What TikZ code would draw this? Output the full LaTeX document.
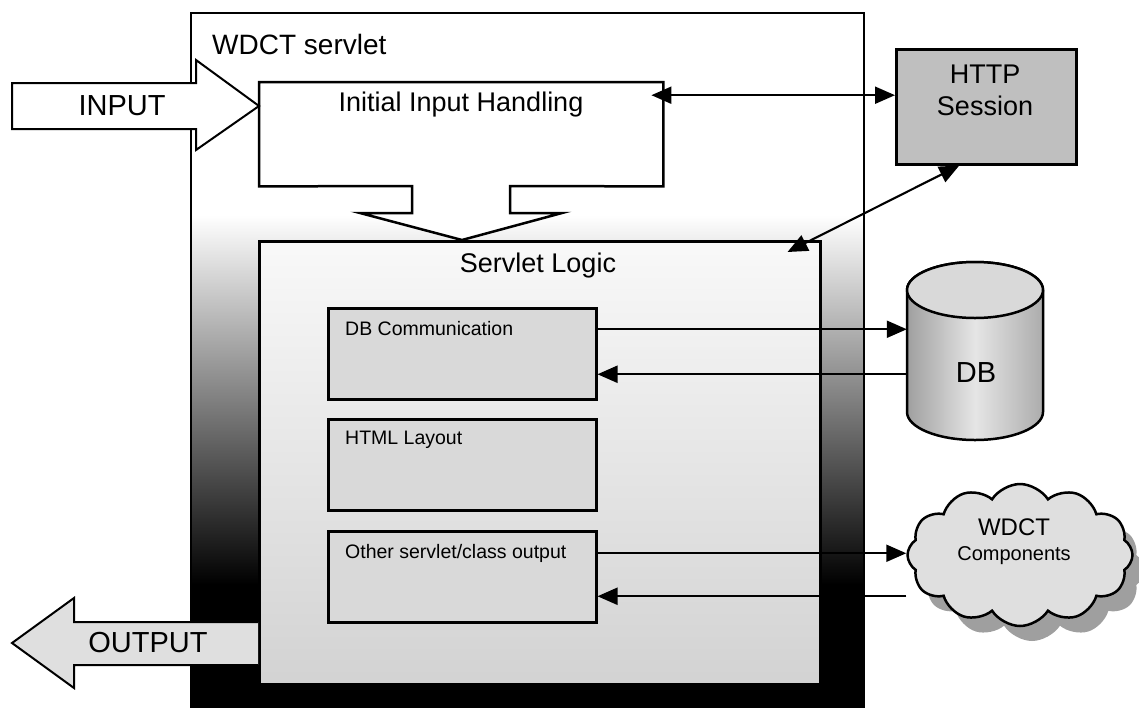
\documentclass[tikz,border=0pt]{standalone}
\usepackage{fontspec}
\setmainfont{Liberation Sans}
\usetikzlibrary{shapes.symbols, arrows.meta, calc}
\begin{document}
\begin{tikzpicture}[x=1pt, y=-1pt,
  box/.style={draw, line width=2.5pt, rectangle, inner sep=0pt, anchor=north west},
  inbox/.style={box, fill=gray!30, minimum width=268pt, minimum height=91pt},
  arr/.style={line width=2.1pt, -{Triangle[length=20pt,width=17pt]}},
  barr/.style={line width=2.1pt, {Triangle[length=20pt,width=17pt]}-{Triangle[length=20pt,width=17pt]}},
  big/.style={font=\fontsize{27}{32}\selectfont, inner sep=0pt},
  huge/.style={font=\fontsize{29}{32}\selectfont, inner sep=0pt},
  small/.style={font=\fontsize{19.5}{22}\selectfont, anchor=west, inner sep=0pt},
  bigarrow/.style={line width=2pt, line join=miter},
  cloudshape/.style={cloud, cloud puffs=12, cloud puff arc=115, aspect=1.6,
    minimum width=225pt, minimum height=142pt, inner sep=0pt},
]
\useasboundingbox (0,0) rectangle (1139,707);

% outer servlet area with gradient
\fill[white] (190,12) rectangle (863,712);
\shade[top color=white, bottom color=black] (190,215) rectangle (863,585);
\fill[black] (190,584) rectangle (863,712);
\node[box, line width=2.2pt, minimum width=673pt, minimum height=700pt] (servlet) at (190,12) {};
\node[big, anchor=west, font=\fontsize{28}{32}\selectfont] (stitle) at (212,44) {WDCT servlet};

% servlet logic
\node[box, top color=gray!5, bottom color=gray!35, minimum width=561pt, minimum height=443pt] (logic) at (258,240) {};
\node[big] (ltitle) at (538,266) {Servlet Logic};

% initial input handling with funnel
\node[rectangle, inner sep=0pt, anchor=north west, minimum width=404pt, minimum height=104pt] (iih) at (259,82) {};
\draw[line width=2.5pt, fill=white, line join=miter] (iih.north west) -- (iih.north east) -- (iih.south east)
  -- (510,186) -- (510,213) -- (562,213) -- (logic.north -| 462,0) -- (360,213) -- (412,213) -- (412,186)
  -- (iih.south west) -- cycle;
\node[big] (ititle) at (461,105) {Initial Input Handling};

% INPUT arrow
\draw[bigarrow, fill=white] (12,83) -- (196,83) -- (196,60) -- (iih.west |- 0,106) -- (196,150) -- (196,129) -- (12,129) -- cycle;
\node[huge] (input) at (122,106) {INPUT};

% OUTPUT arrow
\draw[bigarrow, fill=gray!25] (logic.west |- 0,622) -- (74,622) -- (74,598) -- (12,643) -- (74,688) -- (74,665) -- (logic.west |- 0,665);
\node[huge] (output) at (148,643) {OUTPUT};

% inner boxes
\node[inbox] (dbc) at (327,307) {};
\node[inbox] (html) at (327,418) {};
\node[inbox] (oth) at (327,530) {};
\node[small] (dbct) at ([xshift=18pt,yshift=-22pt]dbc.north west) {DB Communication};
\node[small] (htmlt) at ([xshift=18pt,yshift=-22pt]html.north west) {HTML Layout};
\node[small] (otht) at ([xshift=18pt,yshift=-23pt]oth.north west) {Other servlet/class output};

% HTTP session
\node[box, fill=gray!50, minimum width=180pt, minimum height=115pt] (http) at (895,48) {};
\node[big, align=center] (httpt) at (985,90) {HTTP\\Session};

% DB cylinder
\node[rectangle, minimum width=136pt, minimum height=178pt, inner sep=0pt] (db) at (975,351) {};
\shade[left color=gray!75, right color=gray!65, middle color=gray!20, draw, line width=2.5pt]
  (907,290) -- (907,412) arc[start angle=180, end angle=0, x radius=68, y radius=28]
  -- (1043,290) arc[start angle=0, end angle=-180, x radius=68, y radius=28] -- cycle;
\draw[line width=2.5pt, fill=gray!30] (975,290) ellipse[x radius=68, y radius=28];
\node[huge] (dbt) at (976,373) {DB};

% WDCT components cloud
\node[cloudshape, fill=gray!75] (compshadow) at (1032,570) {};
\node[cloudshape, draw, line width=2.5pt, fill=gray!25] (comp) at (1020,555) {};
\node[font=\fontsize{24}{26}\selectfont, inner sep=0pt] (compt1) at (1014,527) {WDCT};
\node[font=\fontsize{20}{24}\selectfont, inner sep=0pt] (compt2) at (1014,556) {Components};

% connectors
\coordinate (h1) at ([yshift=39pt]iih.east);
\draw[barr, shorten <=-12pt] (h1) -- (h1 -| http.west);
\coordinate (h2) at ([xshift=-27pt]http.south);
\coordinate (l2) at ([xshift=-34pt,yshift=-12pt]logic.north east);
\draw[barr] (h2) -- (l2);

\coordinate (d1) at ([yshift=24.5pt]dbc.east);
\coordinate (d2) at ([yshift=-20.5pt]dbc.east);
\draw[arr] (d1) -- (d1 -| db.west);
\draw[arr] (d2 -| db.west) -- (d2);

\coordinate (c1) at ([yshift=23.5pt]oth.east);
\coordinate (c2) at ([yshift=-19.5pt]oth.east);
\draw[arr] (c1) -- (c1 -| comp.west);
\draw[arr] (c2 -| comp.west) -- (c2);
\end{tikzpicture}
\end{document}
